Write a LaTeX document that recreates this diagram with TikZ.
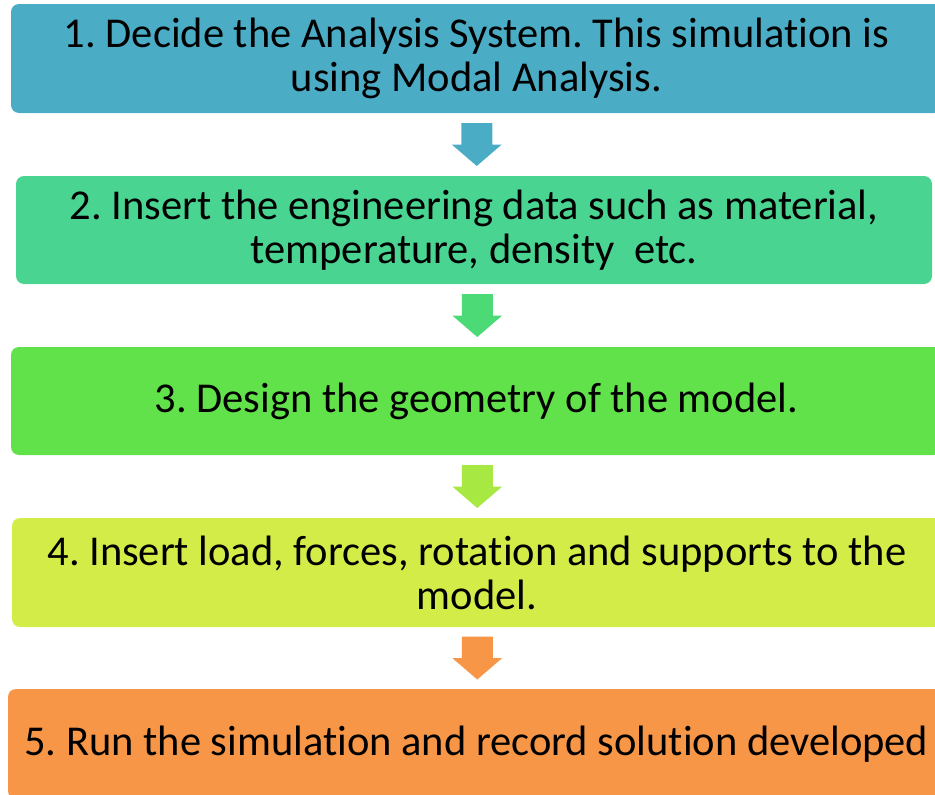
\documentclass[tikz,border=0pt]{standalone}
\usepackage{fontspec}
\setmainfont[Ligatures=NoCommon]{Carlito}
\usetikzlibrary{calc}
\definecolor{cA}{HTML}{4BACC6}
\definecolor{cB}{HTML}{4AD492}
\definecolor{cC}{HTML}{62E24A}
\definecolor{cD}{HTML}{D4EC48}
\definecolor{cE}{HTML}{F79646}
\definecolor{aB}{HTML}{4CDA76}
\definecolor{aC}{HTML}{A8E842}
\tikzset{
  stepbox/.style={rounded corners=8pt, inner sep=0pt, align=center,
    font=\fontsize{42.5}{44}\selectfont, text=black},
  downarrow/.style={fill=#1}
}
% block arrow pointing down, centred on the given coordinate
\newcommand\blockarrow[2]{%
  \fill[downarrow=#2, shift={(#1)}]
    (-15.5,-21.5) -- (15.5,-21.5) -- (15.5,0) -- (25,0) -- (0,21.5)
    -- (-25,0) -- (-15.5,0) -- cycle;}
\frenchspacing
\begin{document}
\begin{tikzpicture}[x=1pt,y=-1pt]
\useasboundingbox (0,0) rectangle (935,795);
\clip (0,0) rectangle (935,795);

\node[stepbox, fill=cA, minimum width=931pt, minimum height=109pt] (s1) at (476.5,58.5)
  {1. Decide the Analysis System. This simulation is\\using Modal Analysis.};
\node[stepbox, fill=cB, minimum width=916pt, minimum height=108pt] (s2) at (474,230)
  {2. Insert the engineering data such as material,\\temperature, density\ \ etc.};
\node[stepbox, fill=cC, minimum width=931pt, minimum height=108pt] (s3) at (476.5,401)
  {3. Design the geometry of the model.};
\node[stepbox, fill=cD, minimum width=930pt, minimum height=109pt] (s4) at (477,572.5)
  {4. Insert load, forces, rotation and supports to the\\model.};
\node[stepbox, fill=cE, minimum width=937pt, minimum height=110pt] (s5) at (476.5,744)
  {5. Run the simulation and record solution developed};

\coordinate (m1) at ($(s1.south)!0.5!(s2.north)$);
\coordinate (m2) at ($(s2.south)!0.5!(s3.north)$);
\coordinate (m3) at ($(s3.south)!0.5!(s4.north)$);
\coordinate (m4) at ($(s4.south)!0.5!(s5.north)$);
\blockarrow{$(m1)+(1.5,0)$}{cA}
\blockarrow{$(m2)+(2,0)$}{aB}
\blockarrow{$(m3)+(0.5,0)$}{aC}
\blockarrow{$(m4)+(0.5,0)$}{cE}
\end{tikzpicture}
\end{document}
